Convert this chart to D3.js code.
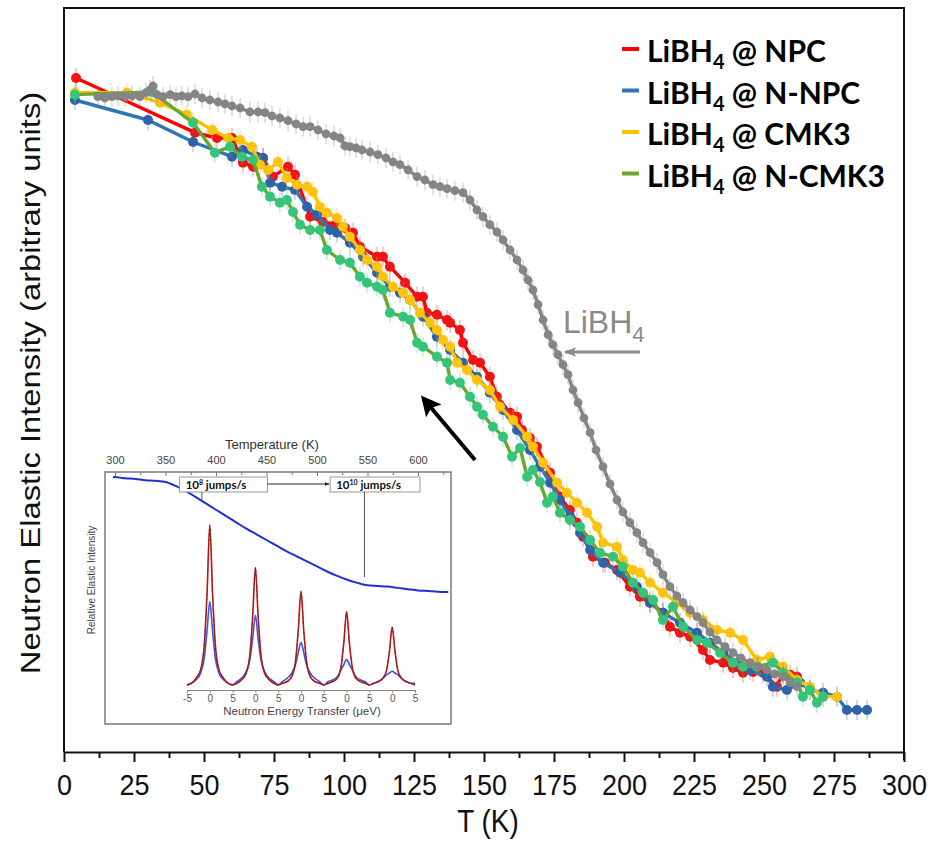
<!DOCTYPE html>
<html>
<head>
<meta charset="utf-8">
<script src="https://cdn.jsdelivr.net/npm/d3@7"></script>
<style>
  body { margin: 0; background: #fff; }
  svg { display: block; }
  text { font-family: "Liberation Sans", Arial, sans-serif; }
</style>
</head>
<body>
<svg id="chart"></svg>
<script>
// ---- main data: T (K) and normalised elastic intensity (arbitrary units)
const npcT = [4.3, 46.8, 54.6, 60.0, 63.9, 67.5, 71.1, 74.6, 80.0, 82.5, 87.9, 92.5, 96.8, 100.4, 103.2, 105.7, 111.8, 113.9, 116.4, 121.8, 126.1, 128.2, 129.6, 133.2, 136.8, 137.9, 141.4, 142.5, 146.1, 148.6, 152.1, 154.6, 159.3, 161.8, 163.6, 166.4, 168.9, 173.6, 174.6, 177.1, 180.7, 183.2, 185.4, 188.9, 193.2, 197.5, 202.1, 205.7, 209.3, 213.9, 216.4, 220.0, 223.6, 228.2, 230.7, 235.4, 238.9, 242.5, 246.1, 249.6, 254.6, 256.8, 259.3, 261.8];
const npcI = [1.011, 0.929, 0.921, 0.921, 0.884, 0.878, 0.891, 0.863, 0.878, 0.866, 0.803, 0.795, 0.791, 0.786, 0.779, 0.758, 0.743, 0.743, 0.728, 0.704, 0.683, 0.683, 0.659, 0.656, 0.648, 0.644, 0.633, 0.614, 0.588, 0.584, 0.563, 0.533, 0.509, 0.503, 0.483, 0.471, 0.458, 0.419, 0.404, 0.383, 0.363, 0.344, 0.323, 0.293, 0.284, 0.273, 0.248, 0.233, 0.224, 0.209, 0.188, 0.179, 0.173, 0.153, 0.138, 0.134, 0.126, 0.119, 0.120, 0.119, 0.098, 0.119, 0.116, 0.113];

const nnpcT = [3.9, 30.0, 46.1, 60.0, 63.9, 68.9, 71.1, 73.6, 77.9, 82.5, 86.8, 90.4, 95.0, 97.5, 102.1, 106.8, 111.8, 116.4, 120.0, 123.6, 128.2, 133.2, 137.9, 142.5, 147.5, 152.1, 156.8, 161.8, 166.4, 170.0, 173.6, 177.1, 180.7, 184.3, 187.9, 192.5, 198.6, 204.6, 209.3, 213.9, 220.0, 226.1, 230.7, 235.4, 240.4, 245.0, 251.1, 253.2, 258.2, 262.9, 266.4, 271.1, 276.1, 279.6, 283.2, 286.8];
const nnpcI = [0.978, 0.948, 0.915, 0.893, 0.903, 0.893, 0.891, 0.854, 0.848, 0.843, 0.818, 0.806, 0.783, 0.779, 0.764, 0.743, 0.719, 0.698, 0.689, 0.678, 0.653, 0.623, 0.603, 0.584, 0.563, 0.539, 0.513, 0.483, 0.453, 0.428, 0.404, 0.378, 0.353, 0.329, 0.303, 0.284, 0.269, 0.248, 0.224, 0.209, 0.194, 0.179, 0.164, 0.149, 0.134, 0.123, 0.113, 0.098, 0.093, 0.104, 0.093, 0.089, 0.083, 0.063, 0.063, 0.063];

const cmkT = [3.9, 22.5, 34.3, 43.9, 52.9, 58.6, 62.9, 67.1, 70.0, 72.9, 76.4, 79.6, 83.2, 86.8, 88.9, 91.4, 93.9, 97.5, 99.6, 102.1, 105.7, 108.2, 111.8, 113.9, 117.5, 121.1, 123.6, 127.1, 130.7, 133.2, 135.4, 137.9, 140.4, 143.9, 147.5, 152.1, 155.7, 160.4, 165.4, 167.5, 171.1, 176.1, 179.6, 183.2, 186.8, 190.4, 192.5, 197.5, 199.6, 203.2, 205.7, 209.3, 213.9, 218.9, 223.6, 228.2, 233.2, 237.9, 242.5, 247.5, 252.1, 256.8, 261.8, 266.4, 271.1, 276.1];
const cmkI = [0.989, 0.989, 0.974, 0.956, 0.933, 0.921, 0.918, 0.908, 0.881, 0.873, 0.885, 0.861, 0.851, 0.848, 0.840, 0.818, 0.809, 0.801, 0.788, 0.773, 0.753, 0.738, 0.728, 0.713, 0.698, 0.689, 0.678, 0.659, 0.644, 0.633, 0.618, 0.608, 0.584, 0.573, 0.558, 0.543, 0.518, 0.498, 0.473, 0.458, 0.434, 0.404, 0.389, 0.374, 0.359, 0.338, 0.314, 0.308, 0.288, 0.273, 0.269, 0.254, 0.239, 0.224, 0.209, 0.198, 0.183, 0.179, 0.168, 0.138, 0.143, 0.128, 0.108, 0.098, 0.083, 0.083];

const ncmkT = [3.9, 31.4, 46.1, 53.9, 59.3, 63.6, 67.5, 70.7, 73.6, 77.1, 79.6, 81.8, 84.3, 87.9, 91.4, 93.9, 98.6, 102.1, 105.7, 108.2, 111.8, 113.9, 116.4, 121.1, 123.6, 126.1, 128.2, 133.2, 136.8, 137.9, 141.4, 145.0, 147.5, 149.6, 153.2, 156.8, 160.0, 162.9, 165.4, 167.5, 170.0, 172.5, 174.6, 177.1, 180.7, 184.3, 187.9, 191.4, 196.1, 199.6, 203.2, 206.8, 210.4, 213.9, 217.5, 221.1, 226.1, 229.6, 234.3, 238.9, 242.5, 247.5, 253.2, 256.8, 261.8, 263.9, 266.4, 268.9, 271.1];
const ncmkI = [0.986, 0.990, 0.944, 0.899, 0.908, 0.893, 0.888, 0.848, 0.833, 0.824, 0.828, 0.810, 0.791, 0.783, 0.783, 0.753, 0.738, 0.734, 0.713, 0.704, 0.698, 0.693, 0.659, 0.653, 0.648, 0.614, 0.608, 0.593, 0.584, 0.558, 0.554, 0.533, 0.518, 0.506, 0.488, 0.473, 0.443, 0.456, 0.413, 0.423, 0.405, 0.374, 0.383, 0.359, 0.348, 0.338, 0.318, 0.299, 0.293, 0.278, 0.254, 0.239, 0.228, 0.198, 0.218, 0.188, 0.168, 0.164, 0.149, 0.134, 0.128, 0.128, 0.134, 0.119, 0.104, 0.083, 0.093, 0.074, 0.083];

const bulkT = [12.1, 14.6, 17.1, 19.3, 21.8, 24.3, 27.1, 29.3, 30.7, 31.8, 33.2, 35.4, 37.9, 40.0, 42.1, 44.3, 46.8, 49.3, 52.1, 55.0, 57.5, 60.0, 62.9, 66.4, 69.3, 71.8, 74.3, 77.1, 80.0, 82.9, 85.4, 87.9, 90.7, 93.6, 96.4, 98.6, 100.4, 102.1, 104.3, 106.4, 109.3, 112.1, 115.0, 117.5, 120.0, 122.9, 126.1, 128.9, 131.8, 134.3, 136.8, 139.6, 142.5, 145.0, 147.5, 149.6, 152.1, 154.6, 156.8, 159.3, 161.8, 163.9, 165.7, 167.5, 169.3, 171.1, 172.9, 174.6, 176.4, 178.2, 180.0, 181.8, 183.6, 185.7, 187.9, 190.0, 192.5, 195.0, 197.5, 199.6, 202.1, 204.6, 206.8, 209.3, 211.8, 213.9, 216.4, 218.9, 221.1, 223.6, 226.1, 228.2, 230.7, 233.2, 236.1, 238.9, 241.8, 245.0, 247.9, 251.1, 253.9, 256.8, 259.3, 261.8];
const bulkI = [0.983, 0.981, 0.983, 0.984, 0.983, 0.984, 0.983, 0.989, 0.993, 0.999, 0.986, 0.983, 0.986, 0.983, 0.984, 0.983, 0.987, 0.981, 0.978, 0.975, 0.972, 0.969, 0.966, 0.960, 0.960, 0.959, 0.954, 0.951, 0.947, 0.942, 0.938, 0.938, 0.933, 0.927, 0.924, 0.921, 0.909, 0.908, 0.906, 0.903, 0.900, 0.896, 0.891, 0.885, 0.881, 0.873, 0.863, 0.858, 0.851, 0.848, 0.845, 0.842, 0.839, 0.828, 0.813, 0.803, 0.791, 0.780, 0.768, 0.753, 0.738, 0.723, 0.708, 0.693, 0.671, 0.648, 0.626, 0.611, 0.596, 0.581, 0.566, 0.543, 0.524, 0.501, 0.479, 0.453, 0.428, 0.402, 0.378, 0.360, 0.344, 0.329, 0.314, 0.299, 0.284, 0.266, 0.248, 0.234, 0.224, 0.213, 0.203, 0.194, 0.180, 0.168, 0.158, 0.149, 0.141, 0.134, 0.128, 0.123, 0.117, 0.113, 0.104, 0.098];

const errBar = 0.015;
const xTicks = [0, 25, 50, 75, 100, 125, 150, 175, 200, 225, 250, 275, 300];
const xMinor = [12.5, 37.5, 62.5, 87.5, 112.5, 137.5, 162.5, 187.5, 212.5, 237.5, 262.5, 287.5];
const legendNames = ["NPC", "N-NPC", "CMK3", "N-CMK3"];

// ---- inset data
const insetTemp = [298, 305, 310, 320, 330, 340, 350, 360, 370, 380, 390, 400, 410, 420, 430, 440, 450, 460, 470, 480, 490, 500, 510, 520, 530, 540, 550, 560, 570, 580, 590, 600, 610, 620, 630];
const insetElastic = [1.0, 0.995, 0.99, 0.985, 0.975, 0.97, 0.96, 0.93, 0.89, 0.84, 0.79, 0.74, 0.69, 0.64, 0.59, 0.545, 0.5, 0.455, 0.41, 0.37, 0.33, 0.29, 0.25, 0.215, 0.185, 0.16, 0.14, 0.135, 0.13, 0.12, 0.11, 0.10, 0.095, 0.09, 0.087];
const insetTempTicks = [300, 350, 400, 450, 500, 550, 600];
const insetTempMinor = [325, 375, 425, 475, 525, 575, 625];

const peakE = [-5, -4, -3, -2, -1.2, -0.6, 0, 0.6, 1.2, 2, 3, 4,
               5, 6, 7, 8, 8.8, 9.4, 10, 10.6, 11.2, 12, 13, 14,
               15, 16, 17, 18, 18.8, 19.4, 20, 20.6, 21.2, 22, 23, 24,
               25, 26, 27, 28, 28.8, 29.4, 30, 30.6, 31.2, 32, 33, 34,
               35, 36, 37, 38, 38.8, 39.4, 40, 40.6, 41.2, 42, 43, 44, 45];
const peakRed = [0.03, 0.04, 0.07, 0.12, 0.27, 0.57, 0.97, 0.57, 0.27, 0.12, 0.07, 0.04,
                 0.03, 0.04, 0.06, 0.10, 0.21, 0.43, 0.72, 0.43, 0.21, 0.10, 0.06, 0.04,
                 0.03, 0.04, 0.05, 0.08, 0.17, 0.35, 0.58, 0.35, 0.17, 0.08, 0.05, 0.04,
                 0.03, 0.04, 0.05, 0.07, 0.14, 0.28, 0.46, 0.28, 0.14, 0.07, 0.05, 0.04,
                 0.03, 0.04, 0.05, 0.07, 0.12, 0.23, 0.37, 0.23, 0.12, 0.07, 0.05, 0.04, 0.03];
const peakBlue = [0.03, 0.04, 0.06, 0.10, 0.19, 0.35, 0.52, 0.35, 0.19, 0.10, 0.06, 0.04,
                  0.03, 0.05, 0.07, 0.11, 0.18, 0.30, 0.44, 0.30, 0.18, 0.11, 0.07, 0.05,
                  0.03, 0.05, 0.07, 0.10, 0.15, 0.22, 0.28, 0.22, 0.15, 0.10, 0.07, 0.05,
                  0.03, 0.05, 0.06, 0.08, 0.12, 0.15, 0.18, 0.15, 0.12, 0.08, 0.06, 0.05,
                  0.03, 0.04, 0.05, 0.07, 0.09, 0.10, 0.11, 0.10, 0.09, 0.07, 0.05, 0.04, 0.04];
const peakTicks = [-5, 0, 5, 10, 15, 20, 25, 30, 35, 40, 45];
const peakTickLabels = ["-5", "0", "5", "0", "5", "0", "5", "0", "5", "0", "5"];

// ---- layout
const width = 932, height = 843;
const svg = d3.select("#chart").attr("width", width).attr("height", height);

const x = d3.scaleLinear().domain([0, 300]).range([64, 904]);
const y = d3.scaleLinear().domain([0, 1.116]).range([752, 8]);

const defs = svg.append("defs");
defs.append("marker").attr("id", "headBlack")
    .attr("viewBox", "0 0 10 10").attr("refX", 8).attr("refY", 5)
    .attr("markerWidth", 5).attr("markerHeight", 5).attr("orient", "auto")
    .append("path").attr("d", "M0,0L10,5L0,10L2,5Z").style("fill", "#000");
defs.append("marker").attr("id", "headGray")
    .attr("viewBox", "0 0 10 10").attr("refX", 9).attr("refY", 5)
    .attr("markerWidth", 6).attr("markerHeight", 4).attr("orient", "auto")
    .append("path").attr("d", "M0,1L10,5L0,9L2,5Z").style("fill", "#8a8a8a");
defs.append("marker").attr("id", "headSmall")
    .attr("viewBox", "0 0 10 10").attr("refX", 9).attr("refY", 5)
    .attr("markerWidth", 5).attr("markerHeight", 5).attr("orient", "auto")
    .append("path").attr("d", "M0,1L10,5L0,9Z").style("fill", "#222");

// frame
svg.append("path")
   .attr("d", `M${x(0)},${y(0)}V${y(1.116)}H${x(300)}V${y(0) + 8}`)
   .style("fill", "none").style("stroke", "#111").style("stroke-width", 2);

// x axis
const xAxisG = svg.append("g")
   .attr("transform", `translate(0,${y(0)})`)
   .call(d3.axisBottom(x).tickValues(xTicks).tickSize(10).tickSizeOuter(0).tickPadding(9));
xAxisG.select(".domain").style("stroke", "#111").style("stroke-width", 2);
xAxisG.selectAll(".tick line").style("stroke", "#111").style("stroke-width", 2);
xAxisG.selectAll(".tick text")
      .style("font-family", "'Liberation Sans', Arial, sans-serif")
      .style("font-size", "27px").style("fill", "#111")
      .attr("transform", "scale(1,1.12)");
const minorG = svg.append("g")
   .attr("transform", `translate(0,${y(0)})`)
   .call(d3.axisBottom(x).tickValues(xMinor).tickSize(6).tickFormat(""));
minorG.select(".domain").remove();
minorG.selectAll(".tick line").style("stroke", "#111").style("stroke-width", 2);

svg.append("text")
   .attr("transform", `translate(${(x(0) + x(300)) / 2 + 4},832) scale(1,1.12)`)
   .attr("text-anchor", "middle")
   .style("font-size", "28px").style("fill", "#111")
   .text("T (K)");

svg.append("text")
   .attr("transform", `translate(40,${(y(0) + y(1.116)) / 2 + 3}) rotate(-90) scale(1.17,1)`)
   .attr("text-anchor", "middle")
   .style("font-size", "28px").style("fill", "#111")
   .text("Neutron Elastic Intensity (arbitrary units)");

// series
function drawSeries(T, I, lineColor, dotColor, r) {
  const pts = T.map((t, i) => [t, I[i]]);
  const g = svg.append("g");
  g.selectAll("line")
   .data(pts).enter().append("line")
   .attr("x1", d => x(d[0])).attr("x2", d => x(d[0]))
   .attr("y1", d => y(d[1] - errBar)).attr("y2", d => y(d[1] + errBar))
   .style("stroke", dotColor).style("stroke-width", 1.5).style("opacity", 0.3);
  g.append("path")
   .datum(pts)
   .attr("d", d3.line().x(d => x(d[0])).y(d => y(d[1])))
   .style("fill", "none").style("stroke", lineColor)
   .style("stroke-width", 3.4).style("stroke-linejoin", "round");
  g.selectAll("circle")
   .data(pts).enter().append("circle")
   .attr("cx", d => x(d[0])).attr("cy", d => y(d[1])).attr("r", r)
   .style("fill", dotColor);
}

drawSeries(npcT, npcI, "#ff0000", "#f01414", 5);
drawSeries(nnpcT, nnpcI, "#2e75b6", "#2f62a8", 5);
drawSeries(cmkT, cmkI, "#ffc000", "#ffc20e", 5);
drawSeries(ncmkT, ncmkI, "#6aa72a", "#34c47a", 5);
drawSeries(bulkT, bulkI, "#858585", "#858585", 4.4);

// annotations
svg.append("line")
   .attr("x1", x(146.8)).attr("y1", y(0.438))
   .attr("x2", x(128.4)).attr("y2", y(0.530))
   .style("stroke", "#000").style("stroke-width", 4)
   .attr("marker-end", "url(#headBlack)");

svg.append("line")
   .attr("x1", x(205.7)).attr("y1", y(0.600))
   .attr("x2", x(179.0)).attr("y2", y(0.600))
   .style("stroke", "#8a8a8a").style("stroke-width", 3)
   .attr("marker-end", "url(#headGray)");

const bulkLabel = svg.append("text")
   .attr("x", x(178.2)).attr("y", y(0.629))
   .style("font-size", "32px").style("fill", "#8a8a8a");
bulkLabel.append("tspan").text("LiBH");
bulkLabel.append("tspan").attr("dy", 9).style("font-size", "22px").text("4");

// legend
const legendColors = ["#ff0000", "#2e75b6", "#ffc000", "#6aa72a"];
const legend = svg.append("g").attr("transform", "translate(622,62)");
legendNames.forEach((name, i) => {
  const row = legend.append("g").attr("transform", `translate(0,${i * 41.5})`);
  row.append("line").attr("x1", 0).attr("x2", 17).attr("y1", -13).attr("y2", -13)
     .style("stroke", legendColors[i]).style("stroke-width", 4);
  const t = row.append("text").attr("x", 25).attr("y", 0)
     .style("font-family", "Lato, 'Open Sans', sans-serif")
     .style("font-weight", "bold").style("font-size", "30px").style("fill", "#000");
  t.append("tspan").text("LiBH");
  t.append("tspan").attr("dy", 7).style("font-size", "20px").text("4");
  t.append("tspan").attr("dy", -7).text(" @ " + name);
});

// ---- inset
const inset = svg.append("g");
const box = {left: 105, right: 451, top: 472, bottom: 724};
inset.append("rect")
   .attr("x", box.left).attr("y", box.top)
   .attr("width", box.right - box.left).attr("height", box.bottom - box.top)
   .style("fill", "#fff").style("stroke", "#7a7a7a").style("stroke-width", 1.5);

const tX = d3.scaleLinear().domain([300, 600]).range([115, 418]);
const tY = d3.scaleLinear().domain([0, 1]).range([603, 477]);

const topAxis = inset.append("g").attr("transform", `translate(0,${box.top})`)
   .call(d3.axisTop(tX).tickValues(insetTempTicks).tickSize(-4).tickPadding(8).tickSizeOuter(0));
topAxis.select(".domain").remove();
topAxis.selectAll(".tick line").style("stroke", "#777");
topAxis.selectAll(".tick text").style("font-size", "11px").style("fill", "#444")
       .style("font-family", "'Liberation Sans', Arial, sans-serif");
const topMinor = inset.append("g").attr("transform", `translate(0,${box.top})`)
   .call(d3.axisTop(tX).tickValues(insetTempMinor).tickSize(-3).tickFormat(""));
topMinor.select(".domain").remove();
topMinor.selectAll(".tick line").style("stroke", "#777");

inset.append("text").attr("x", 272).attr("y", 449).attr("text-anchor", "middle")
     .style("font-size", "13px").style("fill", "#333").text("Temperature (K)");

inset.append("path")
     .datum(insetTemp.map((t, i) => [t, insetElastic[i]]))
     .attr("d", d3.line().x(d => tX(d[0])).y(d => tY(d[1])).curve(d3.curveMonotoneX))
     .style("fill", "none").style("stroke", "#1f2fd0").style("stroke-width", 2);

// rate boxes
const rates = [{from: 364, to: 451, mark: 386, sup: "8"}, {from: 513, to: 602, mark: 547, sup: "10"}];
rates.forEach((r, i) => {
  inset.append("rect")
       .attr("x", tX(r.from)).attr("y", 477)
       .attr("width", tX(r.to) - tX(r.from)).attr("height", 15)
       .style("fill", "#fff").style("stroke", "#999").style("stroke-width", 1);
  const t = inset.append("text").attr("x", tX(r.from) + 6).attr("y", 489)
       .style("font-family", "Lato, sans-serif").style("font-weight", "bold")
       .style("font-size", "11.5px").style("fill", "#111");
  t.append("tspan").text("10");
  t.append("tspan").attr("dy", -4).style("font-size", "7px").text(r.sup);
  t.append("tspan").attr("dy", 4).text(" jumps/s");
});
inset.append("line").attr("x1", tX(451)).attr("x2", tX(512)).attr("y1", 484).attr("y2", 484)
     .style("stroke", "#222").style("stroke-width", 1).attr("marker-end", "url(#headSmall)");
inset.append("line").attr("x1", tX(386)).attr("x2", tX(386)).attr("y1", 492).attr("y2", 500)
     .style("stroke", "#555").style("stroke-width", 1);
inset.append("line").attr("x1", tX(547)).attr("x2", tX(547)).attr("y1", 492).attr("y2", 577)
     .style("stroke", "#555").style("stroke-width", 1);

// peaks
const pX = d3.scaleLinear().domain([-5, 45]).range([187, 415]);
const pY = d3.scaleLinear().domain([0, 1]).range([690, 520]);
const peakLine = d3.line().x(d => pX(d[0])).y(d => pY(d[1])).curve(d3.curveMonotoneX);

inset.append("path").datum(peakE.map((e, i) => [e, peakBlue[i]]))
     .attr("d", peakLine)
     .style("fill", "none").style("stroke", "#3a58e0").style("stroke-width", 1.6);
inset.append("path").datum(peakE.map((e, i) => [e, peakRed[i]]))
     .attr("d", peakLine)
     .style("fill", "none").style("stroke", "#d41515").style("stroke-width", 1.6);
inset.append("path").datum(peakE.map((e, i) => [e, peakRed[i]]))
     .attr("d", peakLine)
     .style("fill", "none").style("stroke", "#333").style("stroke-width", 0.9)
     .style("stroke-dasharray", "3,2").style("opacity", 0.7);

const pAxis = inset.append("g").attr("transform", `translate(0,${pY(0)})`)
   .call(d3.axisBottom(pX).tickValues(peakTicks)
          .tickFormat((d, i) => peakTickLabels[i]).tickSize(3).tickPadding(2).tickSizeOuter(0));
pAxis.select(".domain").style("stroke", "#888");
pAxis.selectAll(".tick line").style("stroke", "#888");
pAxis.selectAll(".tick text").style("font-size", "10px").style("fill", "#555")
     .style("font-family", "'Liberation Sans', Arial, sans-serif");

inset.append("text").attr("x", 302).attr("y", 715).attr("text-anchor", "middle")
     .style("font-size", "11.5px").style("fill", "#444").text("Neutron Energy Transfer (\u03bceV)");

inset.append("text")
     .attr("transform", "translate(95,580) rotate(-90)")
     .attr("text-anchor", "middle")
     .style("font-size", "10px").style("fill", "#444")
     .text("Relative Elastic Intensity");
</script>
</body>
</html>
